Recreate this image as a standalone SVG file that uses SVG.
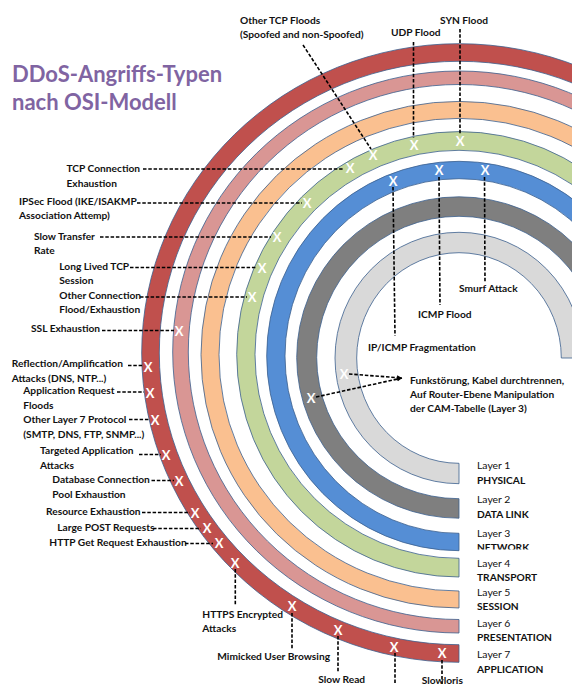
<svg xmlns="http://www.w3.org/2000/svg" width="572" height="684" viewBox="0 0 572 684">
<defs>
<style>
.ring{stroke:#3B5F8E;stroke-width:0.8}
.lbl{font-family:Lato,"Liberation Sans",sans-serif;font-weight:bold;font-size:10.2px;fill:#111}
.reg{font-family:Lato,"Liberation Sans",sans-serif;font-size:10.4px;fill:#111}
.x{font-family:Lato,"Liberation Sans",sans-serif;font-weight:bold;font-size:13px;fill:#fff;text-anchor:middle}
.title{font-family:Lato,"Liberation Sans",sans-serif;font-weight:bold;font-size:22px;fill:#8064A2}
.dash{stroke:#000;stroke-width:1.6;stroke-dasharray:3.5 1.8;fill:none}
</style>
<marker id="ah" markerWidth="6" markerHeight="6" refX="5" refY="3" orient="auto" markerUnits="userSpaceOnUse">
<path d="M0,0.5 L5,3 L0,5.5 Z" fill="#000"/>
</marker>
<clipPath id="netclip"><rect x="470" y="535" width="102" height="14.5"/></clipPath>
</defs>
<rect width="572" height="684" fill="#fff"/>

<g id="title">
<text class="title" x="12" y="82">DDoS-Angriffs-Typen</text>
<text class="title" x="12" y="110">nach OSI-Modell</text>
</g>

<g id="layer7">
<path class="ring" fill="#C0504D" d="M459,662.3 A317.3,309.3 0 1 1 776.3,353 L758.7,353 A299.7,291.7 0 1 0 459,644.7 Z"/>
<text class="reg" x="477" y="658">Layer 7</text><text class="lbl" x="477" y="672.5">APPLICATION</text>
</g>
<g id="layer6">
<path class="ring" fill="#D99694" d="M459,633 A286.3,281 0 1 1 745.3,352 L729.7,352 A270.7,267.5 0 1 0 459,619.5 Z"/>
<text class="reg" x="477" y="626.5">Layer 6</text><text class="lbl" x="477" y="641">PRESENTATION</text>
</g>
<g id="layer5">
<path class="ring" fill="#FAC090" d="M459,608 A258,253.3 0 1 1 717,354.7 L699,354.7 A240,236.3 0 1 0 459,591 Z"/>
<text class="reg" x="477" y="595.5">Layer 5</text><text class="lbl" x="477" y="610">SESSION</text>
</g>
<g id="layer4">
<path class="ring" fill="#C3D69B" d="M459,577 A222.3,222.7 0 1 1 681.3,354.3 L663,354.3 A204,204 0 1 0 459,558.3 Z"/>
<text class="reg" x="477" y="566.5">Layer 4</text><text class="lbl" x="477" y="581">TRANSPORT</text>
</g>
<g id="layer3">
<path class="ring" fill="#558ED5" d="M459,550.7 A192.3,194.7 0 1 1 651.3,356 L633,356 A174,177.3 0 1 0 459,533.3 Z"/>
<text class="reg" x="477" y="536.5">Layer 3</text><text class="lbl" x="477" y="551" clip-path="url(#netclip)">NETWORK</text>
</g>
<g id="layer2">
<path class="ring" fill="#7F7F7F" d="M459,518.2 A162.3,160.7 0 1 1 621.3,357.5 L601.3,357.5 A142.3,141.2 0 1 0 459,498.7 Z"/>
<text class="reg" x="477" y="503">Layer 2</text><text class="lbl" x="477" y="517.5">DATA LINK</text>
</g>
<g id="layer1">
<path class="ring" fill="#D9D9D9" d="M459,483.7 A124,125.7 0 1 1 583,358 L561.3,358 A102.3,105.3 0 1 0 459,463.3 Z"/>
<text class="reg" x="477" y="469">Layer 1</text><text class="lbl" x="477" y="484">PHYSICAL</text>
</g>

<g id="connectors">
<line class="dash" x1="303" y1="45" x2="371" y2="149"/>
<line class="dash" x1="413.5" y1="42" x2="413.5" y2="138"/>
<line class="dash" x1="460" y1="29" x2="460" y2="135"/>
<line class="dash" x1="143" y1="169" x2="344" y2="169"/>
<line class="dash" x1="137" y1="203" x2="302" y2="203"/>
<line class="dash" x1="100" y1="237" x2="271" y2="237"/>
<line class="dash" x1="130" y1="267.5" x2="257" y2="267.5"/>
<line class="dash" x1="140" y1="297" x2="247" y2="297"/>
<line class="dash" x1="102" y1="330.5" x2="174" y2="330.5"/>
<line class="dash" x1="393" y1="187" x2="395" y2="336"/>
<line class="dash" x1="439" y1="177" x2="440" y2="305"/>
<line class="dash" x1="484.5" y1="177" x2="485" y2="283"/>
<line class="dash" x1="128" y1="365.5" x2="143" y2="365.5"/>
<line class="dash" x1="117" y1="392" x2="144" y2="392"/>
<line class="dash" x1="129" y1="419.5" x2="150" y2="419.5"/>
<line class="dash" x1="139" y1="454.5" x2="161" y2="454.5"/>
<line class="dash" x1="151.5" y1="480.5" x2="174" y2="480.5"/>
<line class="dash" x1="142" y1="512.5" x2="190" y2="512.5"/>
<line class="dash" x1="153" y1="528.5" x2="201" y2="528.5"/>
<line class="dash" x1="185" y1="543.5" x2="213" y2="543.5"/>
<line class="dash" x1="235.3" y1="569" x2="235.3" y2="605"/>
<line class="dash" x1="292" y1="613" x2="292" y2="650"/>
<line class="dash" x1="338" y1="636" x2="338" y2="673"/>
<line class="dash" x1="395" y1="653" x2="395" y2="684"/>
<line class="dash" x1="442" y1="660" x2="442" y2="684"/>
<line class="dash" x1="349" y1="374" x2="402" y2="378" marker-end="url(#ah)"/>
<line class="dash" x1="316" y1="397" x2="402" y2="378" marker-end="url(#ah)"/>
</g>

<g id="marks">
<text class="x" x="373" y="159.5">X</text>
<text class="x" x="414" y="149.5">X</text>
<text class="x" x="460" y="145.5">X</text>
<text class="x" x="350" y="172.5">X</text>
<text class="x" x="307" y="207.5">X</text>
<text class="x" x="277" y="241.5">X</text>
<text class="x" x="262" y="272.5">X</text>
<text class="x" x="252" y="301.5">X</text>
<text class="x" x="393" y="185.5">X</text>
<text class="x" x="439" y="174.5">X</text>
<text class="x" x="485" y="174.5">X</text>
<text class="x" x="179" y="335.5">X</text>
<text class="x" x="148" y="371.5">X</text>
<text class="x" x="150" y="397.5">X</text>
<text class="x" x="155" y="424.5">X</text>
<text class="x" x="166" y="459.5">X</text>
<text class="x" x="179" y="485.5">X</text>
<text class="x" x="195" y="517.5">X</text>
<text class="x" x="207" y="532.5">X</text>
<text class="x" x="219" y="547.5">X</text>
<text class="x" x="235" y="567.5">X</text>
<text class="x" x="292" y="611">X</text>
<text class="x" x="338" y="634.5">X</text>
<text class="x" x="394" y="651.5">X</text>
<text class="x" x="442" y="658">X</text>
<text class="x" x="344" y="378.5">X</text>
<text class="x" x="311" y="402.5">X</text>
</g>

<g id="attack-labels">
<g id="other-tcp"><text class="lbl" x="240" y="24">Other TCP Floods</text><text class="lbl" x="240" y="37.5">(Spoofed and non-Spoofed)</text></g>
<g id="udp"><text class="lbl" x="391" y="36">UDP Flood</text></g>
<g id="syn"><text class="lbl" x="440" y="24">SYN Flood</text></g>
<g id="tcp-conn"><text class="lbl" x="66.5" y="172">TCP Connection</text><text class="lbl" x="66.5" y="186.5">Exhaustion</text></g>
<g id="ipsec"><text class="lbl" x="19" y="205">IPSec Flood (IKE/ISAKMP</text><text class="lbl" x="19" y="219">Association Attemp)</text></g>
<g id="slow-transfer"><text class="lbl" x="34" y="239.5">Slow Transfer</text><text class="lbl" x="34" y="254">Rate</text></g>
<g id="long-lived"><text class="lbl" x="59.3" y="269.5">Long Lived TCP</text><text class="lbl" x="59.3" y="284">Session</text></g>
<g id="other-conn"><text class="lbl" x="59.3" y="298.5">Other Connection</text><text class="lbl" x="59.3" y="313">Flood/Exhaustion</text></g>
<g id="ssl"><text class="lbl" x="31" y="332">SSL Exhaustion</text></g>
<g id="frag"><text class="lbl" x="368" y="351">IP/ICMP Fragmentation</text></g>
<g id="icmp"><text class="lbl" x="418" y="318">ICMP Flood</text></g>
<g id="smurf"><text class="lbl" x="459" y="292">Smurf Attack</text></g>
<g id="funk"><text class="lbl" x="410" y="383.5">Funkstörung, Kabel durchtrennen,</text><text class="lbl" x="410" y="397.5">Auf Router-Ebene Manipulation</text><text class="lbl" x="410" y="412">der CAM-Tabelle (Layer 3)</text></g>
<g id="reflection"><text class="lbl" x="11.7" y="367">Reflection/Amplification</text><text class="lbl" x="11.7" y="382">Attacks (DNS, NTP...)</text></g>
<g id="app-req"><text class="lbl" x="23.3" y="393.5">Application Request</text><text class="lbl" x="23.3" y="408.5">Floods</text></g>
<g id="other-l7"><text class="lbl" x="23.3" y="423">Other Layer 7 Protocol</text><text class="lbl" x="23.3" y="438">(SMTP, DNS, FTP, SNMP...)</text></g>
<g id="targeted"><text class="lbl" x="40" y="453.5">Targeted Application</text><text class="lbl" x="40" y="468.5">Attacks</text></g>
<g id="db"><text class="lbl" x="52.3" y="483">Database Connection</text><text class="lbl" x="52.3" y="498">Pool Exhaustion</text></g>
<g id="resource"><text class="lbl" x="46" y="514.5">Resource Exhaustion</text></g>
<g id="post"><text class="lbl" x="57.3" y="531">Large POST Requests</text></g>
<g id="http-get"><text class="lbl" x="49.3" y="545.5">HTTP Get Request Exhaustion</text></g>
<g id="https"><text class="lbl" x="202.3" y="617.5">HTTPS Encrypted</text><text class="lbl" x="202.3" y="632">Attacks</text></g>
<g id="mimicked"><text class="lbl" x="217.3" y="659.5">Mimicked User Browsing</text></g>
<g id="slow-read"><text class="lbl" x="318.3" y="682.5">Slow Read</text></g>
<g id="slowloris"><text class="lbl" x="421.7" y="683.5">Slowloris</text></g>
</g>
</svg>
